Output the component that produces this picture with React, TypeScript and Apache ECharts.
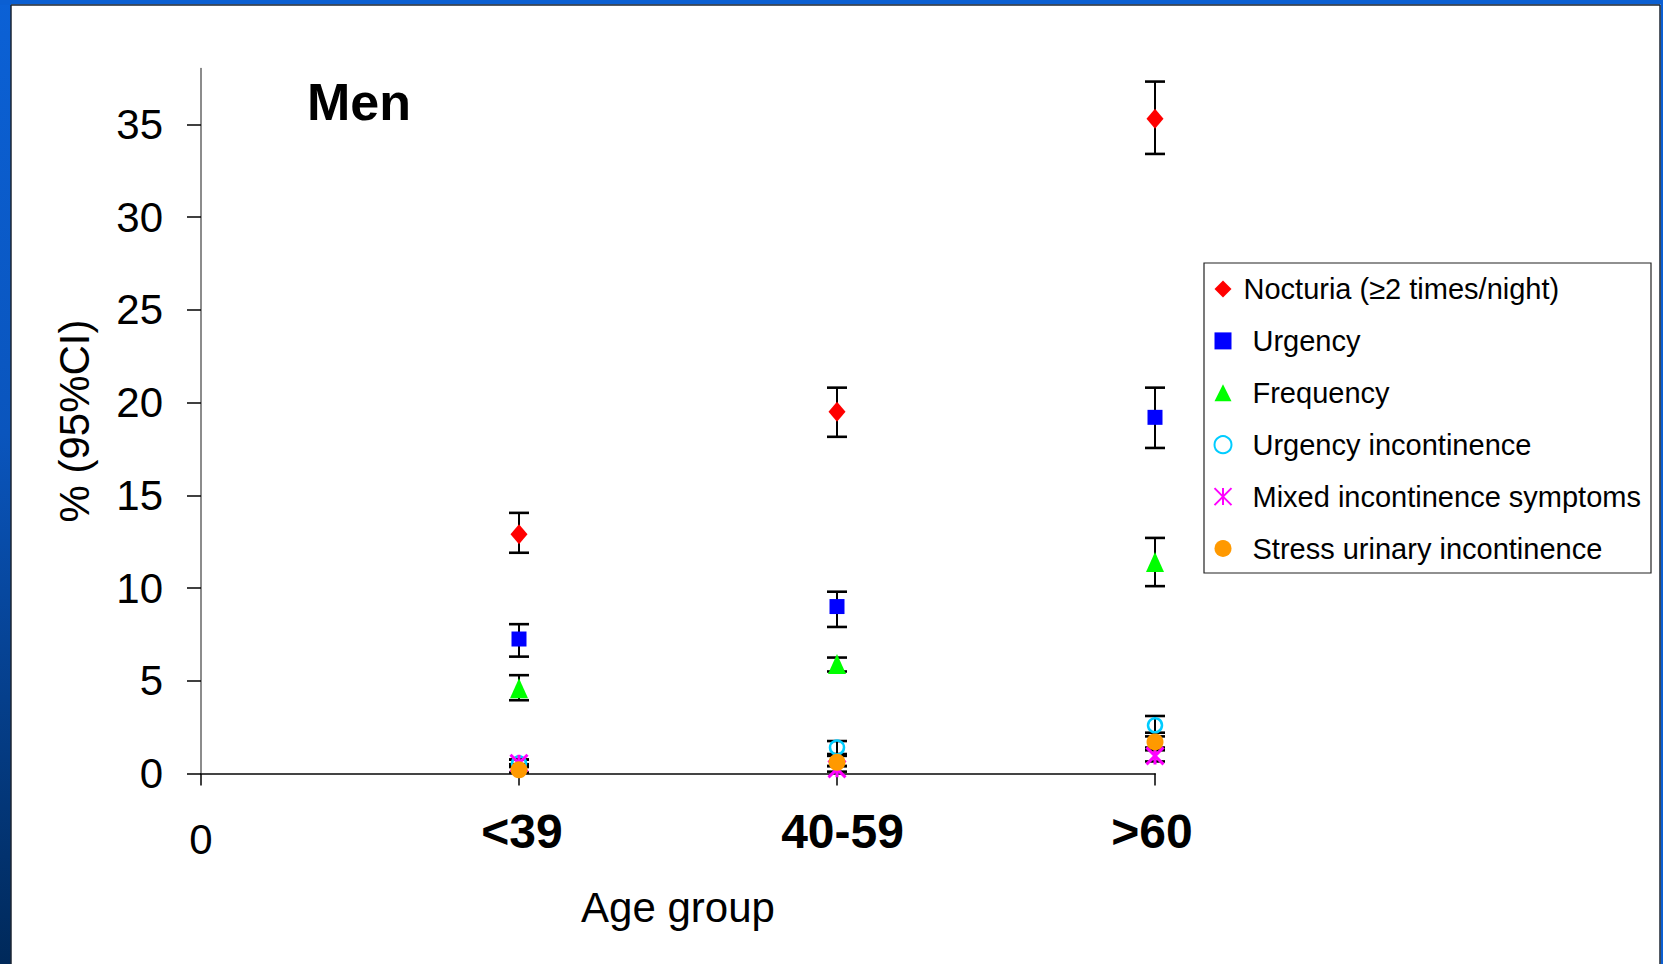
import React, { useEffect, useRef } from 'react';
import * as echarts from 'echarts';

const FONT = '"Liberation Sans", Arial, Helvetica, sans-serif';

const ageGroups = ['<39', '40-59', '>60'];
const xTickLabels = ['0', '<39', '40-59', '>60'];
const yTickValues = [0, 5, 10, 15, 20, 25, 30, 35];

const seriesNames = [
  'Nocturia (≥2 times/night)',
  'Urgency',
  'Frequency',
  'Urgency incontinence',
  'Mixed incontinence symptoms',
  'Stress urinary incontinence',
];

const nocturia = [12.9, 19.5, 35.3];
const nocturiaLow = [11.9, 18.15, 33.4];
const nocturiaHigh = [14.05, 20.8, 37.3];

const urgency = [7.25, 9.0, 19.2];
const urgencyLow = [6.3, 7.9, 17.55];
const urgencyHigh = [8.05, 9.8, 20.8];

const frequency = [4.6, 5.9, 11.4];
const frequencyLow = [3.95, 5.5, 10.1];
const frequencyHigh = [5.3, 6.25, 12.7];

const urgencyIncont = [0.55, 1.4, 2.6];
const urgencyIncontLow = [0.4, 1.05, 2.2];
const urgencyIncontHigh = [0.75, 1.75, 3.1];

const mixed = [0.55, 0.25, 0.95];
const mixedLow = [0.35, 0.1, 0.65];
const mixedHigh = [0.75, 0.4, 1.25];

const stress = [0.2, 0.6, 1.7];
const stressLow = [0.05, 0.4, 1.4];
const stressHigh = [0.5, 0.95, 2.0];

const values = [nocturia, urgency, frequency, urgencyIncont, mixed, stress];
const lows = [nocturiaLow, urgencyLow, frequencyLow, urgencyIncontLow, mixedLow, stressLow];
const highs = [nocturiaHigh, urgencyHigh, frequencyHigh, urgencyIncontHigh, mixedHigh, stressHigh];

const ASTERISK = 'path://M0,0L20,20M20,0L0,20M10,0L10,20';

const markerStyles: any[] = [
  { symbol: 'diamond', symbolSize: [17, 20], itemStyle: { color: '#ff0000', opacity: 1 } },
  { symbol: 'rect', symbolSize: 15, itemStyle: { color: '#0000ff', opacity: 1 } },
  { symbol: 'triangle', symbolSize: [18, 20], itemStyle: { color: '#00ff00', opacity: 1 } },
  { symbol: 'circle', symbolSize: 14, itemStyle: { color: 'rgba(0,0,0,0)', borderColor: '#00ccff', borderWidth: 2.5, opacity: 1 } },
  { symbol: ASTERISK, symbolSize: 17, itemStyle: { color: 'rgba(0,0,0,0)', borderColor: '#ff00ff', borderWidth: 3, opacity: 1 } },
  { symbol: 'circle', symbolSize: 17, itemStyle: { color: '#ff9900', opacity: 1 } },
];

const labelRich: any = {
  z: { fontSize: 42, lineHeight: 62, fontFamily: FONT, color: '#000' },
  b1: { fontSize: 48, lineHeight: 46, fontWeight: 'bold', fontFamily: FONT, color: '#000', padding: [0, 0, 0, 6] },
  b2: { fontSize: 48, lineHeight: 46, fontWeight: 'bold', fontFamily: FONT, color: '#000', padding: [0, 0, 0, 11] },
  b3: { fontSize: 48, lineHeight: 46, fontWeight: 'bold', fontFamily: FONT, color: '#000', padding: [0, 6, 0, 0] },
};

export default function App() {
  const ref = useRef<HTMLDivElement>(null);

  useEffect(() => {
    if (!ref.current) return;
    const chart = echarts.init(ref.current, null, { renderer: 'svg' });

    const errorSeries = values.map((_, s) => ({
      type: 'custom',
      name: 'err' + s,
      z: 1,
      silent: true,
      encode: { x: 0, y: [1, 2] },
      data: ageGroups.map((_, i) => [i + 1, lows[s][i], highs[s][i]]),
      renderItem: (params: any, api: any) => {
        const x = api.value(0);
        const pLo = api.coord([x, api.value(1)]);
        const pHi = api.coord([x, api.value(2)]);
        const hw = 10;
        const cap = { stroke: '#000', lineWidth: 2.6 };
        return {
          type: 'group',
          children: [
            { type: 'line', shape: { x1: pLo[0], y1: pLo[1], x2: pHi[0], y2: pHi[1] }, style: { stroke: '#000', lineWidth: 2 } },
            { type: 'line', shape: { x1: pLo[0] - hw, y1: pLo[1], x2: pLo[0] + hw, y2: pLo[1] }, style: cap },
            { type: 'line', shape: { x1: pHi[0] - hw, y1: pHi[1], x2: pHi[0] + hw, y2: pHi[1] }, style: cap },
          ],
        };
      },
    }));

    const pointSeries = values.map((vals, s) => ({
      type: 'scatter',
      name: seriesNames[s],
      z: 3,
      ...markerStyles[s],
      data: ageGroups.map((_, i) => [i + 1, vals[i]]),
    }));

    chart.setOption({
      animation: false,
      backgroundColor: '#ffffff',
      grid: { left: 201, right: 508, top: 68.6, bottom: 190.5, containLabel: false },
      xAxis: {
        type: 'value',
        min: 0,
        max: 3,
        interval: 1,
        splitLine: { show: false },
        axisLine: { show: true, onZero: false, lineStyle: { color: '#444', width: 2 } },
        axisTick: { show: true, length: 12, lineStyle: { color: '#000', width: 1.5 } },
        axisLabel: {
          margin: 35,
          formatter: (v: number) => {
            const i = Math.round(v);
            return i === 0 ? '{z|' + xTickLabels[0] + '}' : '{b' + i + '|' + xTickLabels[i] + '}';
          },
          rich: labelRich,
        },
        name: 'Age group',
        nameLocation: 'middle',
        nameGap: 113,
        nameTextStyle: { fontSize: 42, fontFamily: FONT, color: '#000' },
      },
      yAxis: {
        type: 'value',
        min: 0,
        max: 38,
        interval: 5,
        splitLine: { show: false },
        axisLine: { show: true, lineStyle: { color: '#666', width: 1.5 } },
        axisTick: { show: true, length: 14, customValues: yTickValues, lineStyle: { color: '#000', width: 1.5 } },
        axisLabel: { margin: 38, fontSize: 42, fontFamily: FONT, color: '#000', customValues: yTickValues },
        name: '% (95%CI)',
        nameLocation: 'middle',
        nameRotate: 90,
        nameGap: 106,
        nameTextStyle: { fontSize: 42, fontFamily: FONT, color: '#000' },
      },
      legend: {
        data: seriesNames,
        orient: 'vertical',
        left: 1213.5,
        top: 274.5,
        itemWidth: 17,
        itemHeight: 17,
        itemGap: 22.9,
        padding: 0,
        selectedMode: false,
        formatter: (name: string) => (name === seriesNames[0] ? '{n|' + name + '}' : '{o|' + name + '}'),
        textStyle: {
          fontSize: 29,
          color: '#000',
          fontFamily: FONT,
          rich: {
            n: { fontSize: 29, color: '#000', fontFamily: FONT, padding: [0, 0, 0, 7] },
            o: { fontSize: 29, color: '#000', fontFamily: FONT, padding: [0, 0, 0, 16] },
          },
        },
      },
      graphic: [
        {
          type: 'rect',
          shape: { x: 0, y: 0, width: 11, height: 964 },
          style: {
            fill: new echarts.graphic.LinearGradient(0, 0, 0, 1, [
              { offset: 0, color: '#0b61d6' },
              { offset: 0.45, color: '#0a55bd' },
              { offset: 1, color: '#00295a' },
            ]),
          },
          silent: true,
        },
        { type: 'rect', shape: { x: 0, y: 0, width: 1663, height: 4.5 }, style: { fill: '#0b5fd2' }, silent: true },
        { type: 'rect', shape: { x: 1660.5, y: 0, width: 3, height: 964 }, style: { fill: '#0b5fd2' }, silent: true },
        { type: 'line', shape: { x1: 11, y1: 5, x2: 11, y2: 964 }, style: { stroke: '#1c2633', lineWidth: 1.5 }, silent: true },
        { type: 'line', shape: { x1: 11, y1: 5, x2: 1660, y2: 5 }, style: { stroke: '#1c2633', lineWidth: 1.5 }, silent: true },
        { type: 'line', shape: { x1: 1660, y1: 5, x2: 1660, y2: 964 }, style: { stroke: '#1c2633', lineWidth: 1.5 }, silent: true },
        {
          type: 'rect',
          shape: { x: 1204, y: 263, width: 447, height: 310 },
          style: { fill: 'none', stroke: '#222', lineWidth: 1.2 },
          silent: true,
        },
        {
          type: 'text',
          x: 307,
          y: 101.5,
          style: {
            text: 'Men',
            fontSize: 52,
            fontWeight: 'bold',
            fontFamily: FONT,
            fill: '#000',
            verticalAlign: 'middle',
            align: 'left',
          },
          silent: true,
        },
      ],
      series: [...errorSeries, ...pointSeries],
    });

    return () => chart.dispose();
  }, []);

  return <div ref={ref} style={{ position: 'fixed', left: 0, top: 0, width: 1663, height: 964 }} />;
}
